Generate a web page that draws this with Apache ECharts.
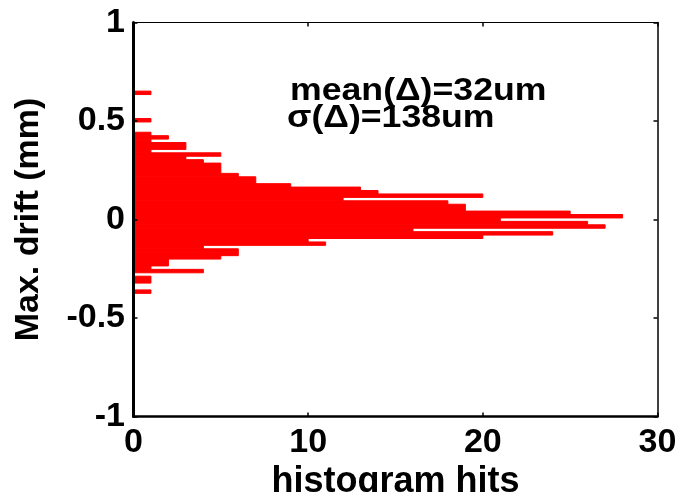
<!DOCTYPE html>
<html>
<head>
<meta charset="utf-8">
<script src="https://cdn.jsdelivr.net/npm/echarts@6/dist/echarts.min.js"></script>
<style>
  html, body { margin: 0; padding: 0; background: #fff; }
  #chart { width: 680px; height: 492px; }
</style>
</head>
<body>
<div id="chart"></div>
<script>
// Histogram bin centres (mm), top to bottom
const binCenters = [
  0.6430, 0.6256, 0.6082, 0.5908, 0.5734, 0.5560, 0.5386, 0.5212, 0.5038, 0.4864,
  0.4690, 0.4516, 0.4342, 0.4168, 0.3994, 0.3820, 0.3646, 0.3472, 0.3298, 0.3124,
  0.2950, 0.2776, 0.2602, 0.2428, 0.2254, 0.2080, 0.1906, 0.1732, 0.1558, 0.1384,
  0.1210, 0.1036, 0.0862, 0.0688, 0.0514, 0.0340, 0.0166, -0.0008, -0.0182, -0.0356,
  -0.0530, -0.0704, -0.0878, -0.1052, -0.1226, -0.1400, -0.1574, -0.1748, -0.1922, -0.2096,
  -0.2270, -0.2444, -0.2618, -0.2792, -0.2966, -0.3140, -0.3314, -0.3488, -0.3662
];
// Hits per bin
const binCounts = [
  1, 0, 0, 0, 0, 0, 0, 0, 1, 0,
  0, 0, 1, 2, 1, 3, 3, 1, 5, 3,
  4, 5, 5, 5, 6, 7, 7, 9, 13, 14,
  20, 12, 18, 19, 19, 25, 28, 21, 26, 27,
  16, 24, 20, 10, 11, 4, 6, 6, 5, 2,
  2, 1, 4, 0, 1, 1, 0, 0, 1
];
const binWidth = 0.0174;
const xTicks = [0, 10, 20, 30];
const yTicks = [-1, -0.5, 0, 0.5, 1];
const annotLines = ['mean(\u0394)=32um', '\u03c3(\u0394)=138um'];

const FONT = '"Liberation Sans", Arial, Helvetica, sans-serif';
const chart = echarts.init(document.getElementById('chart'), null, { renderer: 'canvas' });

const data = binCenters.map((c, i) => [binCounts[i], c]);

const tickLabelStyle = { fontSize: 34, fontWeight: 'bold', fontFamily: FONT, color: '#000' };

chart.setOption({
  animation: false,
  backgroundColor: '#fff',
  grid: { left: 133.5, right: 22.5, top: 22.5, bottom: 75.5, containLabel: false, outerBoundsMode: 'none' },
  xAxis: [{
    type: 'value', min: xTicks[0], max: xTicks[xTicks.length - 1], interval: 10,
    position: 'bottom', z: 10,
    axisLine: { show: true, onZero: false, lineStyle: { color: '#000', width: 2.5 } },
    axisTick: { show: true, inside: true, length: 4, lineStyle: { color: '#000', width: 1.5 } },
    axisLabel: Object.assign({ margin: 9 }, tickLabelStyle),
    splitLine: { show: false },
    name: 'histogram hits', nameLocation: 'middle', nameGap: 37,
    nameTextStyle: { fontSize: 36, fontWeight: 'bold', fontFamily: FONT, color: '#000' }
  }, {
    type: 'value', min: xTicks[0], max: xTicks[xTicks.length - 1], interval: 10,
    position: 'top', z: 10,
    axisLine: { show: true, onZero: false, lineStyle: { color: '#000', width: 1.2 } },
    axisTick: { show: true, inside: true, length: 4, lineStyle: { color: '#000', width: 1.5 } },
    axisLabel: { show: false }, splitLine: { show: false }
  }],
  yAxis: [{
    type: 'value', min: yTicks[0], max: yTicks[yTicks.length - 1], interval: 0.5,
    position: 'left', z: 10,
    axisLine: { show: true, onZero: false, lineStyle: { color: '#000', width: 3 } },
    axisTick: { show: true, inside: true, length: 4, lineStyle: { color: '#000', width: 1.5 } },
    axisLabel: Object.assign({ margin: 8.5 }, tickLabelStyle),
    splitLine: { show: false },
    name: 'Max. drift (mm)', nameLocation: 'middle', nameGap: 88, nameRotate: 90,
    nameTextStyle: { fontSize: 34, fontWeight: 'bold', fontFamily: FONT, color: '#000' }
  }, {
    type: 'value', min: yTicks[0], max: yTicks[yTicks.length - 1], interval: 0.5,
    position: 'right', z: 10,
    axisLine: { show: true, onZero: false, lineStyle: { color: '#000', width: 1.5 } },
    axisTick: { show: true, inside: true, length: 4, lineStyle: { color: '#000', width: 1.5 } },
    axisLabel: { show: false }, splitLine: { show: false }
  }],
  series: [{
    type: 'custom',
    xAxisIndex: 0, yAxisIndex: 0,
    encode: { x: 0, y: 1 },
    z: 2,
    data: data,
    renderItem: function (params, api) {
      const cnt = api.value(0);
      const c = api.value(1);
      if (!cnt) return null;
      const p0 = api.coord([0, c + binWidth / 2]);
      const p1 = api.coord([cnt, c - binWidth / 2]);
      return {
        type: 'rect',
        shape: { x: p0[0], y: p0[1], width: p1[0] - p0[0], height: p1[1] - p0[1] },
        style: { fill: '#ff0000', stroke: '#ff0000', lineWidth: 1 }
      };
    }
  }],
  graphic: [{
    type: 'text', x: 290, y: 76, scaleX: 1.15, z: 20,
    style: { text: annotLines[0], font: 'bold 31px ' + FONT, fill: '#000', verticalAlign: 'top', align: 'left' }
  }, {
    type: 'text', x: 287, y: 103, scaleX: 1.15, z: 20,
    style: { text: annotLines[1], font: 'bold 31px ' + FONT, fill: '#000', verticalAlign: 'top', align: 'left' }
  }]
});
</script>
</body>
</html>
